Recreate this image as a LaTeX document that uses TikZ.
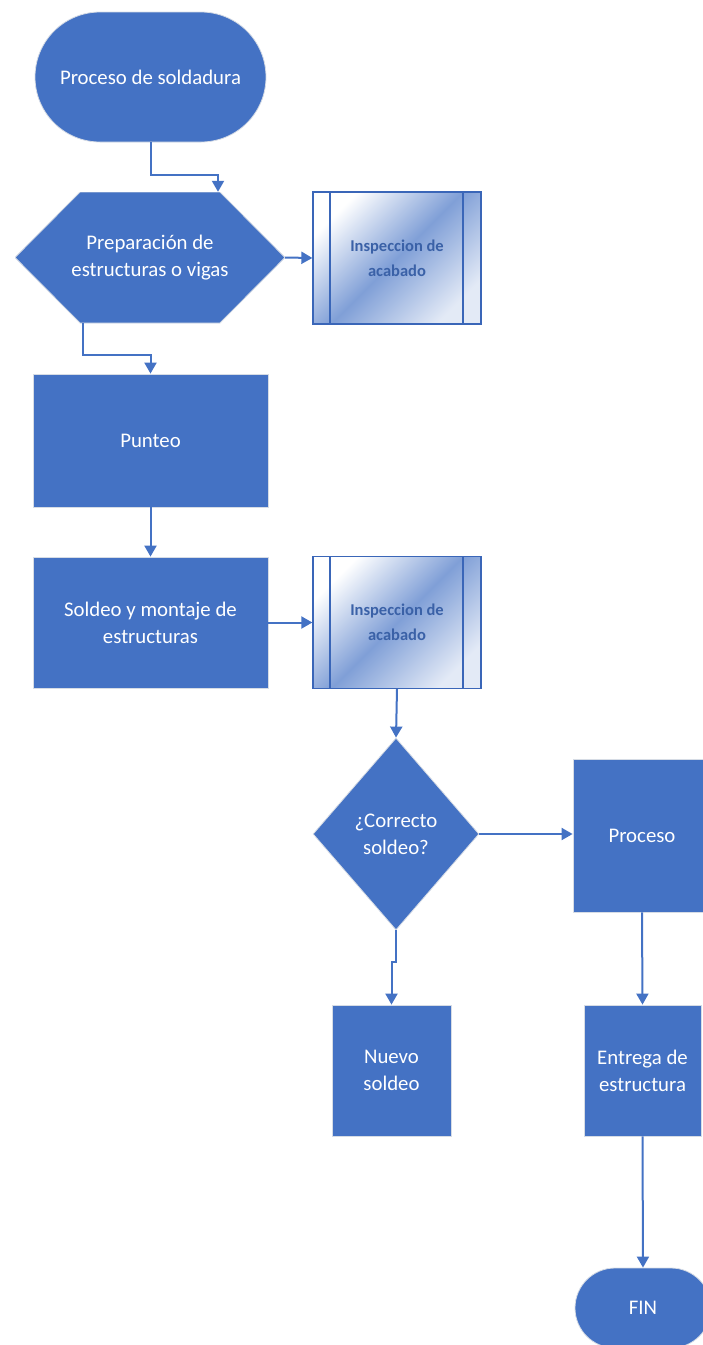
\documentclass[tikz,border=0pt]{standalone}
\usepackage{fontspec}
\setmainfont{Carlito}
\usetikzlibrary{arrows.meta, positioning, shapes.geometric, shapes.misc}
\definecolor{flowblue}{HTML}{4472C4}
\definecolor{flowedge}{HTML}{D6DCE5}
\definecolor{inspline}{HTML}{3A66B8}

\begin{document}
\begin{tikzpicture}[x=1pt, y=1pt, >=Triangle,
      every node/.style={font=\fontsize{20.8}{27}\selectfont, text=white,
                         align=center, inner sep=2pt},
      blk/.style={draw=flowedge, line width=0.8pt, fill=flowblue},
      term/.style={blk, rounded rectangle, minimum width=235pt, minimum height=130pt},
      proc/.style={blk, rectangle},
      % hexagon drawn inside a plain box, so the anchors stay on the box
      prep/.style={rectangle, minimum width=270pt, minimum height=131pt, inner sep=0pt,
                   path picture={
                     \draw[flowedge, line width=0.8pt, fill=flowblue]
                       (path picture bounding box.west) --
                       ([xshift=65pt]path picture bounding box.north west) --
                       ([xshift=-65pt]path picture bounding box.north east) --
                       (path picture bounding box.east) --
                       ([xshift=-65pt]path picture bounding box.south east) --
                       ([xshift=65pt]path picture bounding box.south west) -- cycle;}},
      decide/.style={blk, diamond, minimum width=166pt, minimum height=192pt, inner sep=0pt},
      insp/.style={draw=inspline, line width=1.3pt, minimum width=168pt, minimum height=132pt,
                   top color=white, bottom color=flowblue!15,
                   middle color=flowblue!68, shading angle=45, text=flowblue!85!black,
                   font=\bfseries\fontsize{16.5}{25}\selectfont,
                   path picture={
                     \draw[inspline, line width=1.3pt]
                       ([xshift=17pt]path picture bounding box.north west) --
                       ([xshift=17pt]path picture bounding box.south west);
                     \draw[inspline, line width=1.3pt]
                       ([xshift=-18pt]path picture bounding box.north east) --
                       ([xshift=-18pt]path picture bounding box.south east);}},
      arr/.style={draw=flowblue, line width=2pt, -{Triangle[length=11pt, width=12pt]}}]

    \useasboundingbox (0,0) rectangle (703,-1345);

    % --- left column ---
    \node[term] (start) at (150.5,-77) {Proceso de soldadura};
    \node[prep] (prep) at (150,-257.5) {Preparación de\\estructuras o vigas};
    \node[proc, minimum width=235pt, minimum height=133pt] (punteo) at (150.5,-440.5) {Punteo};
    \node[proc, minimum width=235pt, minimum height=131pt] (soldeo) at (150.5,-622.5)
        {Soldeo y montaje de\\estructuras};

    % --- inspection boxes ---
    \node[insp] (insp1) at (397,-258) {Inspeccion de\\acabado};
    \node[insp] (insp2) at (397,-622.5) {Inspeccion de\\acabado};

    % --- decision and its two branches ---
    \node[decide] (check) at (396,-834) {¿Correcto\\soldeo?};
    \node[proc, minimum width=119pt, minimum height=131pt] (nuevo) at (391.5,-1070.5) {Nuevo\\soldeo};
    \node[proc, minimum width=138pt, minimum height=153pt] (proceso) at (642,-835.5) {Proceso};
    \node[proc, minimum width=117pt, minimum height=131pt] (entrega) at (642.5,-1070.5)
        {Entrega de\\estructura};
    \node[term, minimum width=140pt, minimum height=80pt] (fin) at (643,-1308) {FIN};

    % ======= connectors =======
    \draw[arr] (start.south) -- ++(0,-33pt) -| ([xshift=68pt]prep.north);
    \draw[arr] (prep.east) -- (insp1.west);
    \draw[arr] ([xshift=-67pt]prep.south) -- ++(0,-32pt) -| (punteo.north);
    \draw[arr] (punteo.south) -- (soldeo.north);
    \draw[arr] (soldeo.east) -- (insp2.west);
    \draw[arr] (insp2.south) -- (check.north);
    \draw[arr] (check.east) -- (check.east -| proceso.west);
    \draw[arr] (check.south) -- ++(0,-32pt) -| (nuevo.north);
    \draw[arr] (proceso.south) -- (entrega.north);
    \draw[arr] (entrega.south) -- (fin.north);

\end{tikzpicture}
\end{document}
